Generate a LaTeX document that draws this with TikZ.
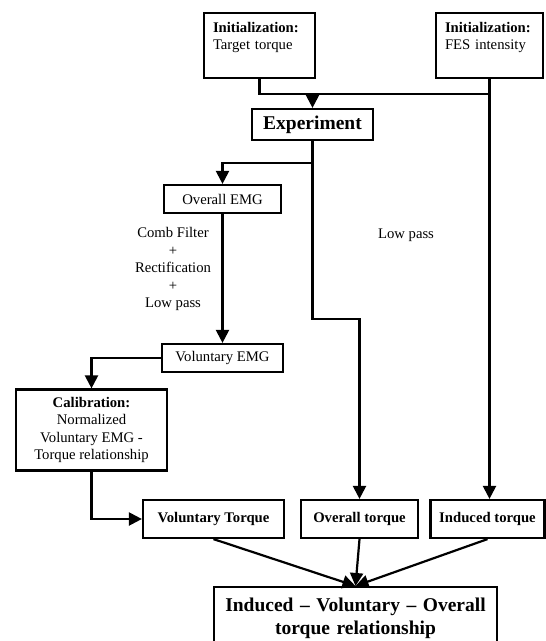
\documentclass[tikz,border=0pt]{standalone}
\usepackage{fontspec}
\setmainfont{Liberation Serif}
\usetikzlibrary{arrows.meta,positioning}
\tikzset{
  base/.style={font=\fontsize{14.7}{17.5}\selectfont, align=center, inner sep=2pt},
  box/.style={base, rectangle, draw, line width=2.2pt, fill=white},
  init/.style={box, align=left, inner xsep=9pt, inner ysep=4pt, text height=15pt, text depth=42pt},
  big/.style={box, font=\fontsize{19.5}{23}\selectfont\bfseries},
  tq/.style={box, font=\fontsize{14.7}{17.5}\selectfont\bfseries, minimum height=38pt},
  line/.style={line width=2.2pt},
  arr/.style={-{Triangle[length=13pt,width=13pt]}, line width=2.2pt},
}
\begin{document}
\begin{tikzpicture}[x=1pt,y=-1pt]
  \useasboundingbox (0,0) rectangle (546,641);
  % initialisation boxes
  \node[init,text width=93pt,minimum width=111pt] (tgt) at (259.5,45.5) {\textbf{Initialization:}\\Target torque};
  \node[init,text width=89pt,minimum width=107pt] (fes) at (489.5,45.5) {\textbf{Initialization:}\\FES intensity};
  \node[big,minimum width=121pt,minimum height=31pt] (exp) at (312.5,124.5) {Experiment};
  % EMG chain
  \node[box,minimum width=117pt,minimum height=28pt] (oemg) at (222.5,199) {Overall EMG};
  \node[box,minimum width=121pt,minimum height=28pt] (vemg) at (222.5,358) {Voluntary EMG};
  \node[base] (filt) at (173,269) {Comb Filter\\+\\Rectification\\+\\Low pass};
  \node[base] (lp) at (406,235) {Low pass};
  \node[box,minimum width=151pt,minimum height=81pt] (cal) at (91.5,430) {\textbf{Calibration:}\\Normalized\\Voluntary EMG -\\Torque relationship};
  % torques
  \node[tq,minimum width=141pt] (vtq) at (213.5,519) {Voluntary Torque};
  \node[tq,minimum width=117pt] (otq) at (359.5,519) {Overall torque};
  \node[tq,minimum width=114pt] (itq) at (487.5,519) {Induced torque};
  \node[big,anchor=north,text width=275pt,minimum width=283pt,inner ysep=4pt,text height=20pt,text depth=60pt] (res) at (355.5,586) {Induced -- Voluntary -- Overall\\torque relationship};
  % connectors
  \coordinate (mix) at (exp.north |- 0,94);
  \draw[line] (tgt.south) |- (fes.south |- mix);
  \draw[arr] (mix) -- (exp.north);
  \draw[arr] (fes.south) -- (fes.south |- itq.north);
  \coordinate (split) at (exp.south |- 0,163);
  \draw[arr] (split) -| (oemg.north);
  \draw[arr] (exp.south) -- (exp.south |- 0,319) -| (otq.north);
  \draw[arr] (oemg) -- (vemg);
  \draw[arr] (vemg.west) -| (cal.north);
  \draw[arr] (cal.south) |- (vtq.west);
  \draw[arr] (vtq.south) -- (res.north);
  \draw[arr] (otq.south) -- (res.north);
  \draw[arr] (itq.south) -- (res.north);
\end{tikzpicture}
\end{document}
